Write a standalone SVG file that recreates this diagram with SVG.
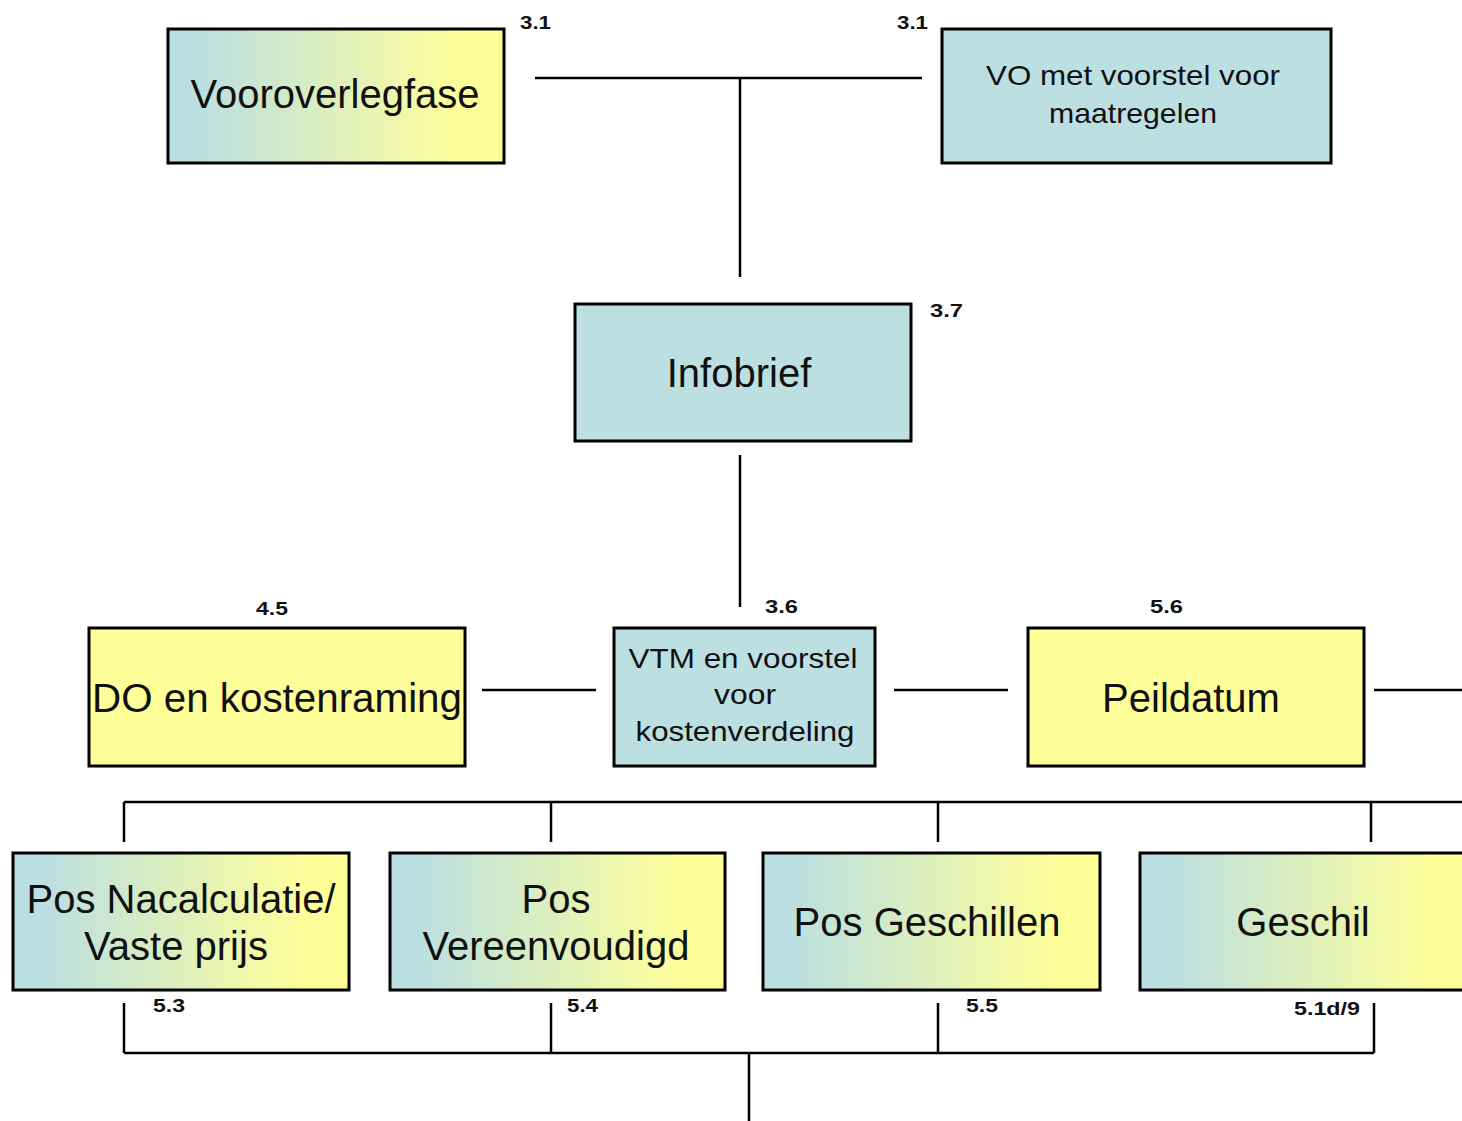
<svg xmlns="http://www.w3.org/2000/svg" width="1462" height="1121" viewBox="0 0 1462 1121">
<style>
.box{stroke:#000;stroke-width:3}
.blue{fill:#BCDFE2}
.yellow{fill:#FFFF99}
.grad{fill:url(#g)}
.t{font-family:"Liberation Sans",Arial,sans-serif;font-size:40px;fill:#111;text-anchor:middle}
.s{font-family:"Liberation Sans",Arial,sans-serif;font-size:28px;fill:#111;text-anchor:middle}
.n{font-family:"Liberation Sans",Arial,sans-serif;font-size:19px;font-weight:bold;fill:#111}
.c{fill:none;stroke:#000;stroke-width:2.5}
</style>
<defs>
<linearGradient id="g" x1="0" y1="0" x2="1" y2="0">
<stop offset="0" stop-color="#BBDFE2"/>
<stop offset="0.08" stop-color="#BBDFE2"/>
<stop offset="0.88" stop-color="#FFFF99"/>
<stop offset="1" stop-color="#FFFF99"/>
</linearGradient>
</defs>
<rect width="1462" height="1121" fill="#fff"/>
<g id="connectors" class="c">
<path d="M535,78 H922 M740,78 V277"/>
<path d="M740,455 V607"/>
<path d="M482,690 H596 M894,690 H1008 M1374,690 H1462"/>
<path d="M124,802 H1462 M124,802 V842 M551,802 V842 M938,802 V842 M1371,802 V842"/>
<path d="M124,1003 V1053 M551,1003 V1053 M938,1003 V1053 M1374,1003 V1053 M124,1053 H1374 M749,1053 V1121"/>
</g>
<g id="n-vooroverlegfase">
<rect class="box grad" x="168" y="29" width="336" height="134"/>
<text class="t" x="335" y="108">Vooroverlegfase</text>
<text class="n" x="520" y="29" textLength="31" lengthAdjust="spacingAndGlyphs">3.1</text>
</g>
<g id="n-vo">
<rect class="box blue" x="942" y="29" width="389" height="134"/>
<text class="s" x="1133" y="85" textLength="294" lengthAdjust="spacingAndGlyphs">VO met voorstel voor</text>
<text class="s" x="1133" y="123" textLength="168" lengthAdjust="spacingAndGlyphs">maatregelen</text>
<text class="n" x="897" y="29" textLength="31" lengthAdjust="spacingAndGlyphs">3.1</text>
</g>
<g id="n-infobrief">
<rect class="box blue" x="575" y="304" width="336" height="137"/>
<text class="t" x="739" y="387">Infobrief</text>
<text class="n" x="930" y="317" textLength="33" lengthAdjust="spacingAndGlyphs">3.7</text>
</g>
<g id="n-do">
<rect class="box yellow" x="89" y="628" width="376" height="138"/>
<text class="t" x="277" y="712" textLength="370" lengthAdjust="spacingAndGlyphs">DO en kostenraming</text>
<text class="n" x="256" y="615" textLength="32" lengthAdjust="spacingAndGlyphs">4.5</text>
</g>
<g id="n-vtm">
<rect class="box blue" x="614" y="628" width="261" height="138"/>
<text class="s" x="743" y="668" textLength="229" lengthAdjust="spacingAndGlyphs">VTM en voorstel</text>
<text class="s" x="745" y="704" textLength="62" lengthAdjust="spacingAndGlyphs">voor</text>
<text class="s" x="745" y="741" textLength="219" lengthAdjust="spacingAndGlyphs">kostenverdeling</text>
<text class="n" x="765" y="613" textLength="33" lengthAdjust="spacingAndGlyphs">3.6</text>
</g>
<g id="n-peildatum">
<rect class="box yellow" x="1028" y="628" width="336" height="138"/>
<text class="t" x="1191" y="712">Peildatum</text>
<text class="n" x="1150" y="613" textLength="33" lengthAdjust="spacingAndGlyphs">5.6</text>
</g>
<g id="n-nacalculatie">
<rect class="box grad" x="13" y="853" width="336" height="137"/>
<text class="t" x="181" y="913">Pos Nacalculatie/</text>
<text class="t" x="176" y="960">Vaste prijs</text>
<text class="n" x="153" y="1012" textLength="32" lengthAdjust="spacingAndGlyphs">5.3</text>
</g>
<g id="n-vereenvoudigd">
<rect class="box grad" x="390" y="853" width="335" height="137"/>
<text class="t" x="556" y="913">Pos</text>
<text class="t" x="556" y="960">Vereenvoudigd</text>
<text class="n" x="567" y="1012" textLength="31" lengthAdjust="spacingAndGlyphs">5.4</text>
</g>
<g id="n-geschillen">
<rect class="box grad" x="763" y="853" width="337" height="137"/>
<text class="t" x="927" y="936">Pos Geschillen</text>
<text class="n" x="966" y="1012" textLength="32" lengthAdjust="spacingAndGlyphs">5.5</text>
</g>
<g id="n-geschil">
<rect class="box grad" x="1140" y="853" width="338" height="137"/>
<text class="t" x="1303" y="936">Geschil</text>
<text class="n" x="1294" y="1015" textLength="66" lengthAdjust="spacingAndGlyphs">5.1d/9</text>
</g>
</svg>
